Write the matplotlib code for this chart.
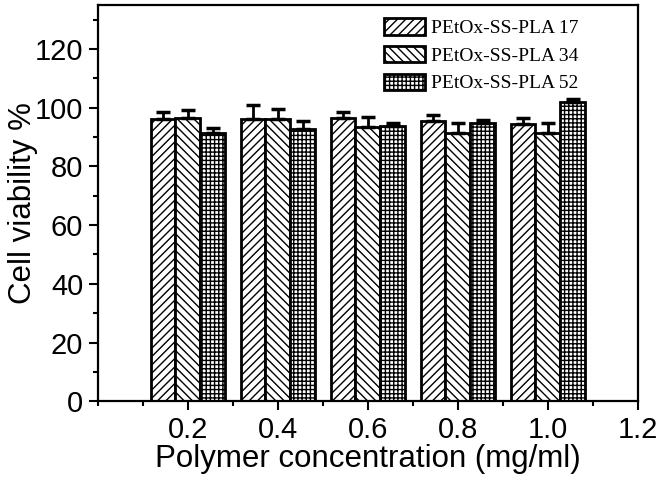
import numpy as np
import matplotlib
matplotlib.use('Agg')
import matplotlib.pyplot as plt
from matplotlib.ticker import MultipleLocator

conc = [0.2, 0.4, 0.6, 0.8, 1.0]
series = ['PEtOx-SS-PLA 17', 'PEtOx-SS-PLA 34', 'PEtOx-SS-PLA 52']
vals = {
    'PEtOx-SS-PLA 17': [96.2, 96.2, 96.6, 95.6, 94.3],
    'PEtOx-SS-PLA 34': [96.3, 96.2, 93.3, 91.4, 91.3],
    'PEtOx-SS-PLA 52': [91.2, 92.8, 93.6, 94.6, 101.8],
}
errs = {
    'PEtOx-SS-PLA 17': [2.4, 4.6, 1.8, 2.0, 2.0],
    'PEtOx-SS-PLA 34': [3.0, 3.2, 3.4, 3.2, 3.3],
    'PEtOx-SS-PLA 52': [2.0, 2.6, 1.0, 1.2, 1.2],
}
hatches = ['////', '\\\\\\\\', '++++']

plt.rcParams['font.family'] = ['Liberation Sans', 'DejaVu Sans']
plt.rcParams['hatch.linewidth'] = 1.0

fig = plt.figure(figsize=(6.61, 4.84), dpi=100)
ax = fig.add_axes([0.148, 0.171, 0.817, 0.819])

w = 0.055
x = np.array(conc)
for i, s in enumerate(series):
    xs = x + (i - 1) * w
    v = np.array(vals[s])
    e = np.array(errs[s])
    ax.bar(xs, v, width=w, facecolor='white', edgecolor='black', linewidth=2.0,
           hatch=hatches[i], label=s, zorder=2)
    ax.errorbar(xs, v, yerr=[np.zeros_like(e), e], fmt='none', ecolor='black',
                elinewidth=2.0, capsize=5, capthick=2.5, zorder=3)

ax.set_xlim(0, 1.2)
ax.set_ylim(0, 135)
ax.xaxis.set_major_locator(MultipleLocator(0.2))
ax.xaxis.set_minor_locator(MultipleLocator(0.1))
ax.yaxis.set_major_locator(MultipleLocator(20))
ax.yaxis.set_minor_locator(MultipleLocator(10))
ax.set_xticks([0.2, 0.4, 0.6, 0.8, 1.0, 1.2])
ax.set_xticklabels(['0.2', '0.4', '0.6', '0.8', '1.0', '1.2'])
ax.tick_params(which='major', direction='out', length=6.5, width=1.5, labelsize=21,
               top=False, right=False, pad=4)
ax.tick_params(which='minor', direction='out', length=3.5, width=1.5,
               top=False, right=False)
for sp in ax.spines.values():
    sp.set_linewidth(1.6)

ax.set_xlabel('Polymer concentration (mg/ml)', fontsize=22.5, labelpad=0)
ax.set_ylabel('Cell viability %', fontsize=22.5, labelpad=-2)

leg = ax.legend(loc='upper right', frameon=False,
                prop={'family': 'Liberation Serif', 'size': 14},
                handlelength=2.1, handleheight=0.9, handletextpad=0.3,
                labelspacing=0.45, borderaxespad=0.3, bbox_to_anchor=(0.915, 1.0))

fig.savefig('out.png', dpi=100)
